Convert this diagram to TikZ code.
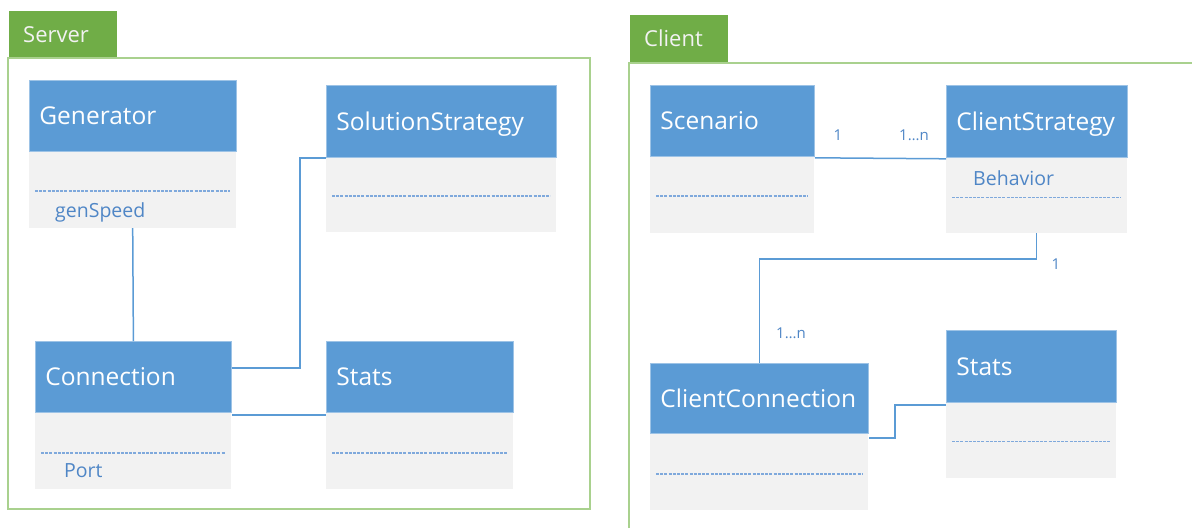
\documentclass[tikz,border=0pt]{standalone}
\usepackage{fontspec}
\setmainfont{Open Sans}
\usetikzlibrary{calc}
\definecolor{hdrblue}{HTML}{5B9BD5}
\definecolor{hdredge}{HTML}{9DC3E6}
\definecolor{bodygray}{HTML}{F2F2F2}
\definecolor{linkblue}{HTML}{5B9BD5}
\definecolor{attrblue}{HTML}{4F86C6}
\definecolor{sepblue}{HTML}{7FA9DC}
\definecolor{tabgreen}{HTML}{70AD47}
\definecolor{framegreen}{HTML}{A9D18E}
\begin{document}
\begin{tikzpicture}[x=1pt,y=-1pt,
  hdr/.style={fill=hdrblue, draw=hdredge, line width=0.8pt, anchor=north west,
    inner xsep=10pt, inner ysep=0pt, align=left, text=white,
    font=\fontsize{24.5}{26}\selectfont, text height=17.5pt, text depth=0pt},
  body/.style={fill=bodygray, draw=none, anchor=north west, inner sep=0pt},
  attrsep/.style={draw=sepblue, line width=1.8pt, dash pattern=on 3pt off 1.2pt},
  attr/.style={anchor=base west, inner sep=0pt, text=attrblue,
    font=\fontsize{19.5}{21}\selectfont},
  mult/.style={inner sep=0pt, text=attrblue, font=\fontsize{15}{17}\selectfont},
  link/.style={draw=linkblue, line width=1.5pt},
  tab/.style={fill=tabgreen, anchor=north west, inner xsep=14pt, inner ysep=0pt,
    align=left, text=white!95!black, font=\fontsize{22}{24}\selectfont,
    text height=15.5pt, text depth=0pt},
  frame/.style={draw=framegreen, line width=2.5pt}
]
\useasboundingbox (0,0) rectangle (1192,528);

% ---------- Server package ----------
\node[tab, minimum height=47pt, text width=80pt] (srvTab) at (9,11) {Server};
\draw[frame] (8,58) rectangle (590,509);

% Generator
\node[hdr, minimum height=71pt, text width=187pt] (genH) at (29,80) {Generator};
\node[body, minimum width=207pt, minimum height=76pt] (genB) at (genH.south west) {};
\draw[attrsep] ($(genB.west)+(6,1)$) -- ($(genB.east)+(-6,1)$);
\node[attr] (genAttr) at ($(genB.west)+(26,27)$) {genSpeed};

% Connection
\node[hdr, minimum height=71pt, text width=176pt] (connH) at (35,341) {Connection};
\node[body, minimum width=196pt, minimum height=76pt] (connB) at (connH.south west) {};
\draw[attrsep] ($(connB.west)+(6,2)$) -- ($(connB.east)+(-6,2)$);
\node[attr] (connAttr) at ($(connB.west)+(29,26)$) {Port};

% SolutionStrategy
\node[hdr, minimum height=72pt, text width=210pt] (solH) at (326,85) {SolutionStrategy};
\node[body, minimum width=230pt, minimum height=74pt] (solB) at (solH.south west) {};
\draw[attrsep] ($(solB.west)+(6,1)$) -- ($(solB.east)+(-6,1)$);

% Stats (server)
\node[hdr, minimum height=71pt, text width=167pt] (sstH) at (326,341) {Stats};
\node[body, minimum width=187pt, minimum height=76pt] (sstB) at (sstH.south west) {};
\draw[attrsep] ($(sstB.west)+(6,2)$) -- ($(sstB.east)+(-6,2)$);

% server links
\draw[link] (genB.south) -- (connH.north);
\draw[link] ($(connH.north east)+(0,27)$) -- ++(68,0) |- (solH.south west);
\draw[link] ([yshift=-2pt]connH.south east) -- ([yshift=-2pt]sstH.south west);

% ---------- Client package ----------
\node[tab, minimum height=48pt, text width=70pt] (cliTab) at (630,15) {Client};
\draw[frame] (629,528) -- (629,63) -- (1192,63);

% Scenario
\node[hdr, minimum height=71pt, text width=144pt] (scnH) at (650,85) {Scenario};
\node[body, minimum width=164pt, minimum height=76pt] (scnB) at (scnH.south west) {};
\draw[attrsep] ($(scnB.west)+(6,1)$) -- ($(scnB.east)+(-6,1)$);

% ClientStrategy
\node[hdr, minimum height=72pt, text width=161pt] (csH) at (946,85) {ClientStrategy};
\node[body, minimum width=181pt, minimum height=75pt] (csB) at (csH.south west) {};
\draw[attrsep] ($(csB.west)+(6,2)$) -- ($(csB.east)+(-6,2)$);
\node[attr] (csAttr) at ($(csB.west)+(27,-10)$) {Behavior};

% ClientConnection
\node[hdr, minimum height=70pt, text width=198pt] (ccH) at (650,363) {ClientConnection};
\node[body, minimum width=218pt, minimum height=76pt] (ccB) at (ccH.south west) {};
\draw[attrsep] ($(ccB.west)+(6,2)$) -- ($(ccB.east)+(-6,2)$);

% Stats (client)
\node[hdr, minimum height=72pt, text width=150pt] (cstH) at (946,330) {Stats};
\node[body, minimum width=170pt, minimum height=75pt] (cstB) at (cstH.south west) {};
\draw[attrsep] ($(cstB.west)+(6,1)$) -- ($(cstB.east)+(-6,1)$);

% client links
\draw[link] ([yshift=-1pt]scnH.south east) -- ([yshift=-1pt]csH.south west);
\node[mult] (mScn) at (838,135) {1};
\node[mult] (mCs) at (914,135) {1…n};

\draw[link] (csB.south) -- ++(0,26) -| (ccH.north);
\node[mult] (mCsDown) at (1056,264) {1};
\node[mult] (mCc) at (791,333) {1…n};

\draw[link] ([yshift=-4pt]ccH.south east) -- ++(26,0) |- ([yshift=-2pt]cstH.south west);
\end{tikzpicture}
\end{document}
